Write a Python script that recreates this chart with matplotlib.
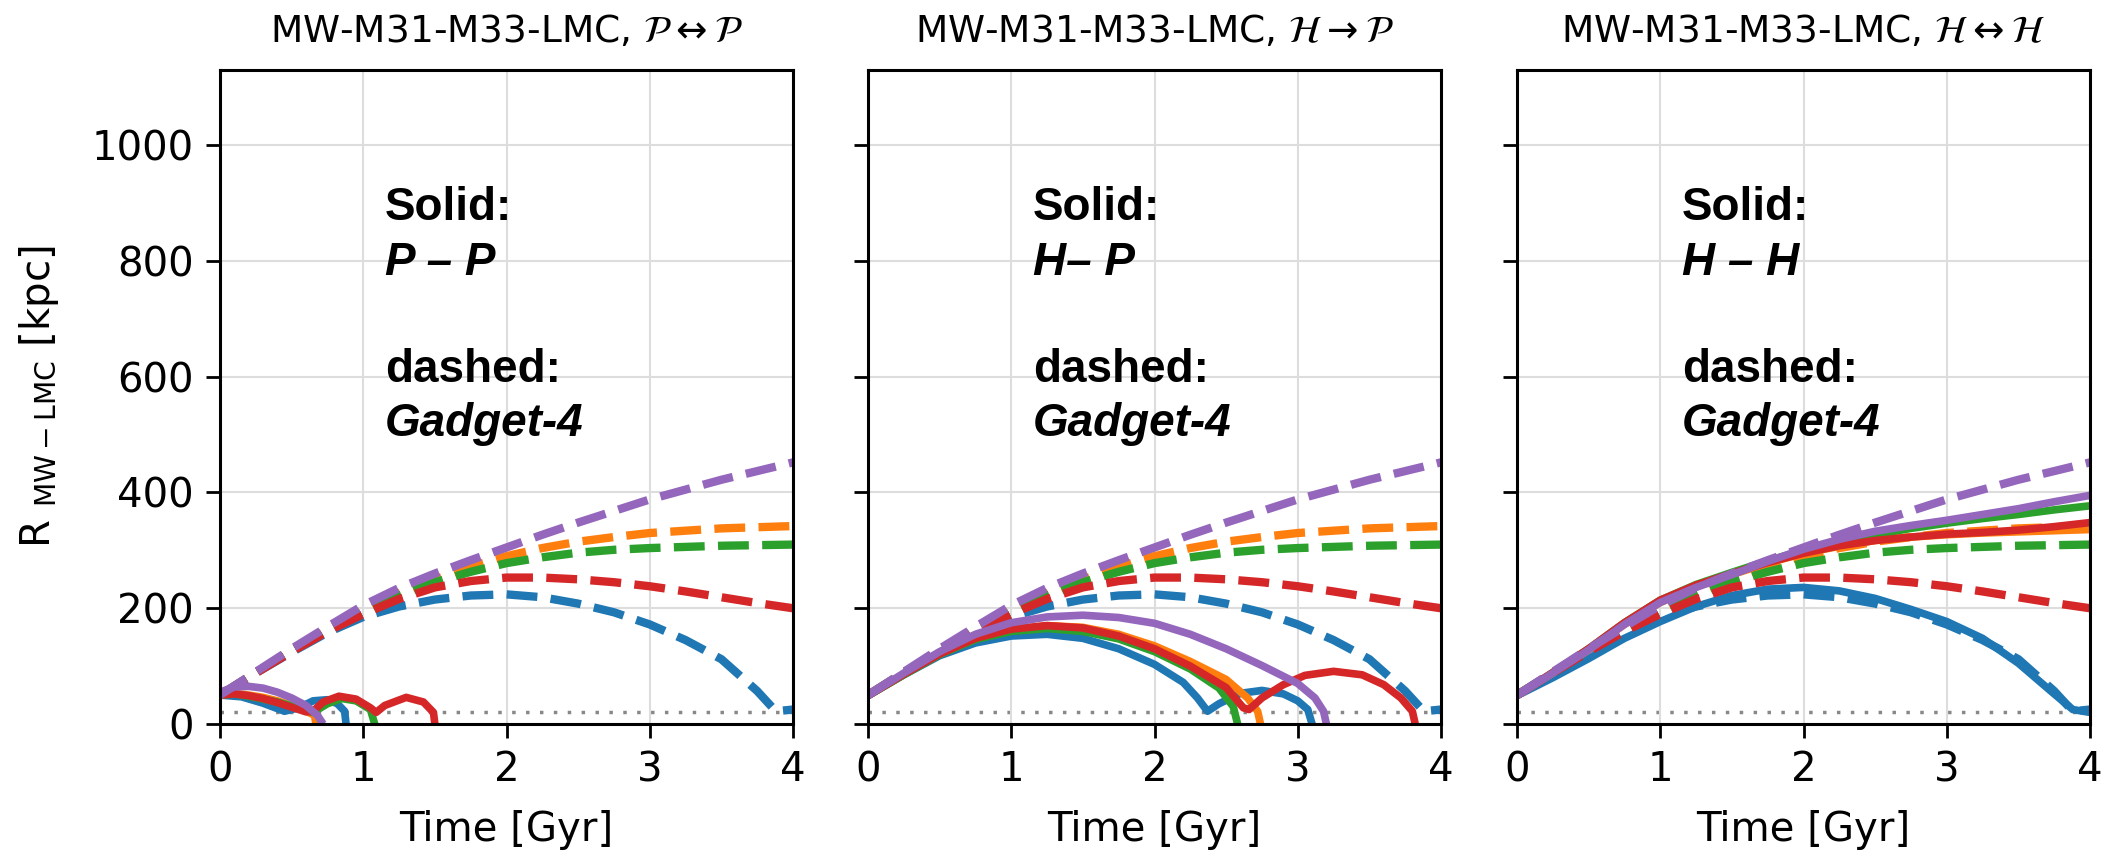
import matplotlib
matplotlib.use('Agg')
import matplotlib.pyplot as plt

colors = ['#1f77b4', '#ff7f0e', '#2ca02c', '#d62728', '#9467bd']

# Gadget-4 reference runs (dashed, same in every panel)
gad_t = [0, 0.25, 0.5, 0.75, 1, 1.25, 1.5, 1.75, 2, 2.25, 2.5, 2.75, 3, 3.25, 3.5, 3.75, 4]
gad_blue_t = [0, 0.25, 0.5, 0.75, 1, 1.25, 1.5, 1.75, 2, 2.25, 2.5, 2.75, 3, 3.25, 3.5, 3.75, 3.88, 4]
gad_blue = [50, 88, 124, 158, 185, 203, 215, 222, 224, 219, 208, 193, 172, 145, 112, 57, 22, 25]
gad_orange = [50, 89, 128, 165, 198, 226, 250, 272, 290, 304, 315, 323, 330, 334, 338, 340, 342]
gad_green = [50, 89, 127, 163, 195, 222, 245, 263, 278, 288, 296, 301, 304, 306, 308, 309, 310]
gad_red = [50, 88, 125, 160, 190, 216, 236, 247, 253, 253, 250, 245, 238, 229, 219, 209, 200]
gad_purple = [50, 90, 130, 168, 205, 235, 260, 283, 305, 327, 348, 368, 388, 405, 422, 437, 452]

# P <-> P
pp_blue_t = [0, 0.15, 0.3, 0.45, 0.55, 0.65, 0.75, 0.82, 0.87, 0.88]
pp_blue = [50, 47, 36, 22, 28, 40, 42, 35, 22, 0]
pp_orange_t = [0, 0.1, 0.2, 0.3, 0.4, 0.55, 0.66, 0.67]
pp_orange = [50, 53, 50, 46, 40, 28, 15, 0]
pp_green_t = [0, 0.1, 0.2, 0.4, 0.6, 0.65, 0.75, 0.85, 0.95, 1.05, 1.08]
pp_green = [50, 52, 48, 38, 24, 20, 35, 44, 40, 25, 0]
pp_red_t = [0, 0.1, 0.2, 0.3, 0.4, 0.5, 0.6, 0.65, 0.72, 0.83, 0.95, 1.05, 1.09, 1.15, 1.3, 1.42, 1.49, 1.5]
pp_red = [50, 52, 49, 44, 37, 29, 21, 22, 38, 48, 43, 28, 20, 32, 46, 38, 20, 0]
pp_purple_t = [0, 0.1, 0.2, 0.3, 0.4, 0.5, 0.6, 0.68, 0.72]
pp_purple = [55, 64, 65, 62, 55, 45, 32, 15, 0]

# H -> P
hp_blue_t = [0, 0.25, 0.5, 0.75, 1, 1.25, 1.5, 1.75, 2, 2.2, 2.3, 2.37, 2.45, 2.6, 2.75, 2.9, 3.0, 3.07, 3.1]
hp_blue = [49, 85, 118, 140, 152, 155, 148, 130, 103, 72, 45, 22, 35, 53, 58, 52, 40, 25, 0]
hp_orange_t = [0, 0.25, 0.5, 0.75, 1, 1.25, 1.5, 1.75, 2, 2.25, 2.5, 2.65, 2.72, 2.74]
hp_orange = [49, 86, 121, 148, 163, 170, 167, 155, 135, 108, 77, 45, 22, 0]
hp_green_t = [0, 0.25, 0.5, 0.75, 1, 1.25, 1.5, 1.75, 2, 2.25, 2.45, 2.55, 2.58]
hp_green = [49, 85, 120, 146, 160, 165, 160, 147, 125, 95, 62, 30, 0]
hp_red_t = [0, 0.25, 0.5, 0.75, 1, 1.25, 1.5, 1.75, 2, 2.25, 2.5, 2.62, 2.66, 2.75, 2.9, 3.05, 3.25, 3.45, 3.6, 3.72, 3.8, 3.82]
hp_red = [49, 86, 121, 148, 164, 170, 166, 152, 130, 100, 63, 28, 25, 45, 68, 84, 91, 85, 68, 45, 22, 0]
hp_purple_t = [0, 0.25, 0.5, 0.75, 1, 1.25, 1.5, 1.75, 2, 2.25, 2.5, 2.75, 3, 3.12, 3.18, 3.2]
hp_purple = [49, 88, 125, 155, 175, 185, 188, 184, 174, 155, 130, 101, 70, 45, 22, 0]

# H <-> H
hh_t = [0, 0.25, 0.5, 0.75, 1, 1.25, 1.5, 1.75, 2, 2.25, 2.5, 2.75, 3, 3.25, 3.5, 3.75, 4]
hh_blue_t = [0, 0.25, 0.5, 0.75, 1, 1.25, 1.5, 1.75, 2, 2.25, 2.5, 2.75, 3, 3.25, 3.5, 3.75, 3.88, 4]
hh_blue = [49, 80, 113, 148, 177, 203, 222, 233, 236, 230, 217, 198, 177, 148, 105, 52, 25, 20]
hh_orange = [49, 88, 128, 172, 210, 237, 258, 278, 295, 307, 317, 323, 327, 330, 332, 334, 336]
hh_green = [49, 89, 130, 175, 214, 241, 262, 282, 300, 315, 327, 338, 347, 355, 362, 370, 377]
hh_red = [49, 89, 130, 175, 214, 240, 260, 279, 295, 308, 317, 323, 328, 331, 335, 341, 348]
hh_purple = [49, 88, 128, 172, 210, 236, 258, 281, 302, 319, 333, 343, 352, 362, 372, 384, 395]

titles = [r'MW-M31-M33-LMC, $\mathcal{P}\leftrightarrow\mathcal{P}$',
          r'MW-M31-M33-LMC, $\mathcal{H}\rightarrow\mathcal{P}$',
          r'MW-M31-M33-LMC, $\mathcal{H}\leftrightarrow\mathcal{H}$']
solid_labels = ['P \u2013 P', 'H\u2013 P', 'H \u2013 H']

gadget = [(gad_blue_t, gad_blue), (gad_t, gad_orange), (gad_t, gad_green),
          (gad_t, gad_red), (gad_t, gad_purple)]
solids = [
    [(pp_blue_t, pp_blue), (pp_orange_t, pp_orange), (pp_green_t, pp_green),
     (pp_red_t, pp_red), (pp_purple_t, pp_purple)],
    [(hp_blue_t, hp_blue), (hp_orange_t, hp_orange), (hp_green_t, hp_green),
     (hp_red_t, hp_red), (hp_purple_t, hp_purple)],
    [(hh_blue_t, hh_blue), (hh_t, hh_orange), (hh_t, hh_green),
     (hh_t, hh_red), (hh_t, hh_purple)],
]

plt.rcParams['font.family'] = ['DejaVu Sans']

fig = plt.figure(figsize=(21.11, 8.57), dpi=100)
lefts = [220 / 2111, 868 / 2111, 1517 / 2111]
W = 573 / 2111
B = 1 - 724 / 857
H = 654 / 857

for i in range(3):
    ax = fig.add_axes([lefts[i], B, W, H])
    ax.grid(True, color='#dddddd', lw=1.5, zorder=0)
    ax.axhline(20, color='#888888', lw=2.5, dashes=(1, 3), zorder=1)
    for c, (gt, gv), (st, sv) in zip(colors, gadget, solids[i]):
        ax.plot(st, sv, color=c, lw=5.5, solid_joinstyle='round',
                solid_capstyle='butt', zorder=2)
        ax.plot(gt, gv, color=c, lw=6, ls='--', zorder=2)
    ax.set_xlim(0, 4)
    ax.set_ylim(0, 1130)
    ax.set_xticks([0, 1, 2, 3, 4])
    ax.set_yticks([0, 200, 400, 600, 800, 1000])
    ax.tick_params(labelsize=29, length=10, width=2, pad=9)
    for s in ax.spines.values():
        s.set_linewidth(2.2)
    ax.set_xlabel('Time [Gyr]', fontsize=29, labelpad=14)
    ax.set_title(titles[i], fontsize=27, pad=20)
    if i == 0:
        ax.set_ylabel(r'R $_{\rm MW-LMC}$ [kpc]', fontsize=29, labelpad=22)
    else:
        ax.set_yticklabels([])
    tx = 1.15
    ax.text(tx, 870, 'Solid:', fontsize=33, fontweight='bold',
            family='Liberation Sans', va='baseline')
    ax.text(tx, 776, solid_labels[i], fontsize=33, fontweight='bold',
            fontstyle='italic', family='Liberation Sans', va='baseline')
    ax.text(tx, 591, 'dashed:', fontsize=33, fontweight='bold',
            family='Liberation Sans', va='baseline')
    ax.text(tx, 497, 'Gadget-4', fontsize=33, fontweight='bold',
            fontstyle='italic', family='Liberation Sans', va='baseline')

fig.savefig('out.png', dpi=100)
